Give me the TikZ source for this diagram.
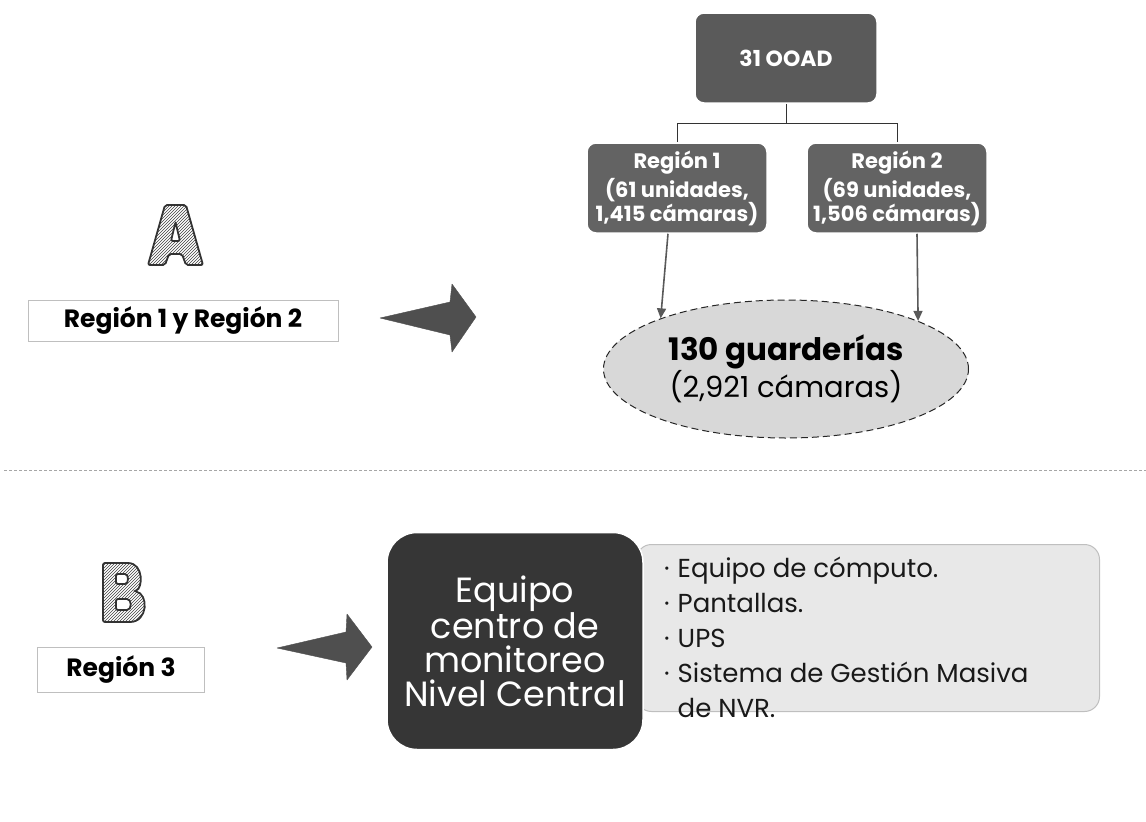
\documentclass[tikz,border=0pt]{standalone}
\usepackage{fontspec}
\setmainfont{Poppins}
\usetikzlibrary{shapes.geometric,arrows.meta,patterns}
\definecolor{grisosc}{HTML}{5A5A5A}
\definecolor{grisreg}{HTML}{636363}
\definecolor{grisfondo}{HTML}{D8D8D8}
\definecolor{negrobox}{HTML}{363636}
\definecolor{grisclaro}{HTML}{E8E8E8}
\definecolor{flechagris}{HTML}{4F4F4F}
\begin{document}
\begin{tikzpicture}[x=1pt,y=-1pt,
    caja/.style={rectangle,rounded corners=9pt,fill=grisreg,draw=white,line width=1.5pt,
        text=white,align=center,inner sep=0pt},
    etiqueta/.style={rectangle,draw=black!25,line width=0.6pt,inner sep=0pt,
        font=\bfseries\fontsize{25}{30}\selectfont},
    letra/.style={draw=black!80,line width=1.8pt,rounded corners=2pt,even odd rule,
        pattern=north east lines,pattern color=black!75},
    bloque/.style={fill=flechagris,draw=flechagris,line join=round},
    enlace/.style={draw=black!80,line width=0.8pt},
    flecha/.style={draw=black!65,line width=1.6pt,-{Triangle[length=10pt,width=9pt]}}]
\useasboundingbox (0,0) rectangle (1146,822);

% parte A
\node[caja,fill=grisosc,minimum width=182,minimum height=90,
    font=\bfseries\fontsize{22}{26}\selectfont] (ooad) at (786,58) {31 OOAD};
\node[caja,minimum width=180,minimum height=90,font=\bfseries\fontsize{21}{24}\selectfont]
    (reg1) at (677,188) {Región 1\\[3pt](61 unidades,\\1,415 cámaras)};
\node[caja,minimum width=180,minimum height=90,font=\bfseries\fontsize{21}{24}\selectfont]
    (reg2) at (897,188) {Región 2\\[3pt](69 unidades,\\1,506 cámaras)};
\node[ellipse,fill=grisfondo,draw=black!85,line width=1pt,dash pattern=on 7pt off 4pt,
    minimum width=365,minimum height=138,inner sep=0pt,align=center]
    (guard) at (786,369) {{\bfseries\fontsize{31}{34}\selectfont 130 guarderías}\\
    {\fontsize{29}{34}\selectfont (2,921 cámaras)}};

\draw[enlace] (ooad.south) -- ++(0,20) -| (reg1.north);
\draw[enlace] (ooad.south) ++(0,20) -| (reg2.north);
\draw[flecha] ([xshift=-9]reg1.south) -- (guard.158);
\draw[flecha] ([xshift=20]reg2.south) -- (guard.20);

\path[letra] (148,265) -- (165,205) -- (186,205) -- (203,265) -- (186,265) -- (182,254)
    -- (169,254) -- (165,265) -- cycle
    (171,241) -- (180,241) -- (175.5,222) -- cycle;
\node[etiqueta,minimum width=310,minimum height=41] (regAB) at (183,321) {Región 1 y Región 2};
\filldraw[bloque] (380,318) -- (450,302) -- (452,284) -- (476,317) -- (452,352)
    -- (450,335) -- cycle;

\draw[black!35,line width=0.7pt,dash pattern=on 3pt off 2pt] (4,470) -- (1146,470);

% parte B
\path[letra] (103,563) -- (126,563) .. controls (144,563) and (143,589) .. (134,591)
    .. controls (149,594) and (148,622) .. (128,622) -- (103,622) -- cycle
    (116,574) -- (123,574) .. controls (129,574) and (129,584) .. (123,584) -- (116,584) -- cycle
    (116,599) -- (125,599) .. controls (132,599) and (132,610) .. (125,610) -- (116,610) -- cycle;
\node[etiqueta,minimum width=167,minimum height=45] (reg3) at (121,670) {Región 3};
\filldraw[bloque] (277,648) -- (346,632) -- (347,614) -- (372,647) -- (347,680)
    -- (346,663) -- cycle;

\node[rectangle,rounded corners=15pt,fill=grisclaro,draw=black!25,line width=1pt,
    minimum width=463,minimum height=167,inner sep=0pt] (lista) at (868,628) {};
\node[rectangle,rounded corners=30pt,fill=negrobox,draw=white,line width=1.5pt,
    minimum width=256,minimum height=217,text=white,align=center,
    font=\fontsize{35}{34}\selectfont] (centro) at (515,641)
    {Equipo\\centro de\\monitoreo\\Nivel Central};
\node[anchor=north west,inner sep=0pt,font=\fontsize{26}{35}\selectfont,text=black!90]
    (items) at (664,553) {\begin{tabular}{@{}l@{\hspace{8pt}}l@{}}
    · & Equipo de cómputo.\\
    · & Pantallas.\\
    · & UPS\\
    · & Sistema de Gestión Masiva\\
      & de NVR.
    \end{tabular}};
\end{tikzpicture}
\end{document}
